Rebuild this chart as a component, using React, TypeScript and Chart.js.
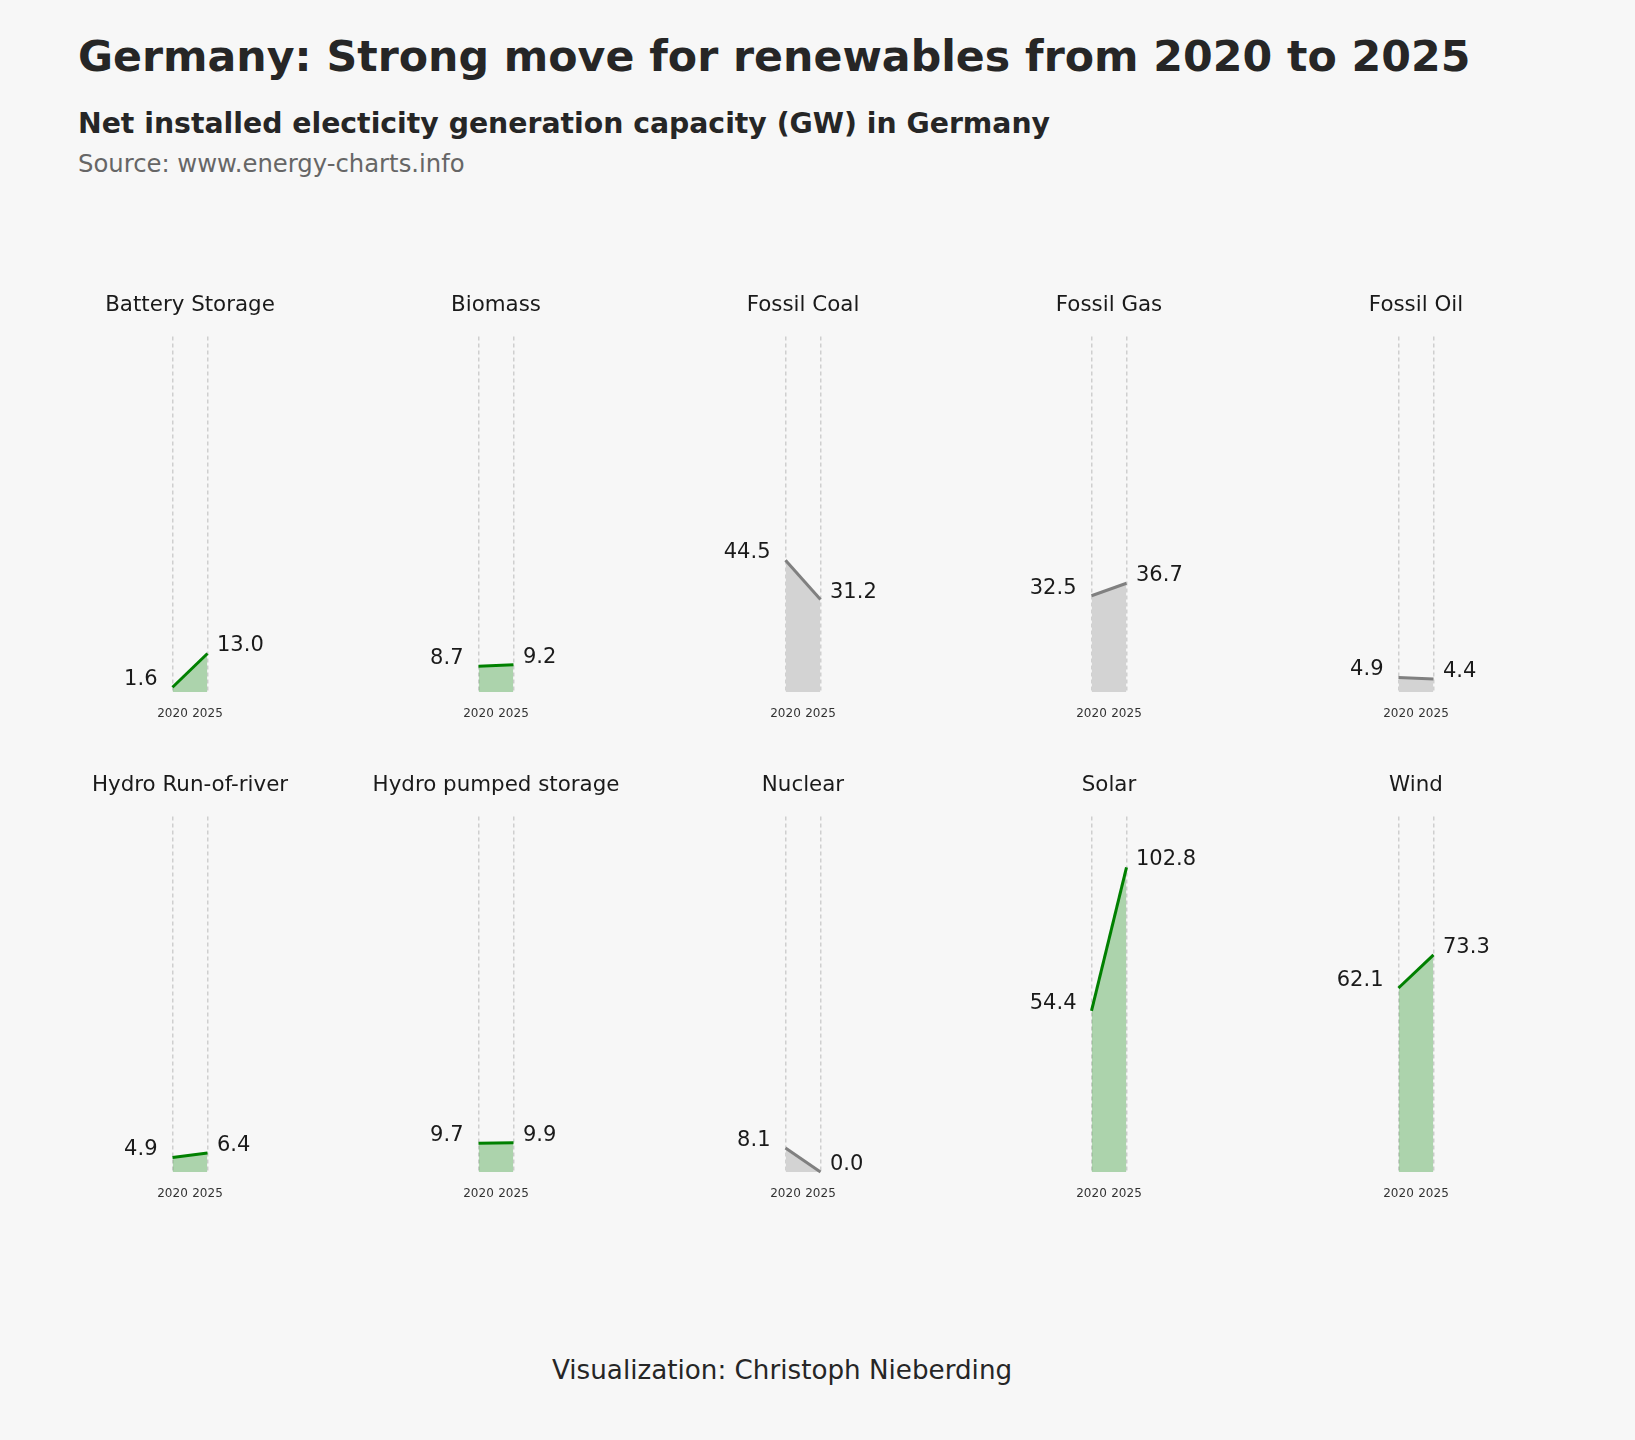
import React, { useEffect, useRef } from "react";
import { Chart, registerables } from "chart.js";

Chart.register(...registerables);

const years: string[] = ["2020", "2025"];
const categories: string[] = [
  "Battery Storage",
  "Biomass",
  "Fossil Coal",
  "Fossil Gas",
  "Fossil Oil",
  "Hydro Run-of-river",
  "Hydro pumped storage",
  "Nuclear",
  "Solar",
  "Wind",
];
const values2020: number[] = [1.6, 8.7, 44.5, 32.5, 4.9, 4.9, 9.7, 8.1, 54.4, 62.1];
const values2025: number[] = [13.0, 9.2, 31.2, 36.7, 4.4, 6.4, 9.9, 0.0, 102.8, 73.3];
const renewable: boolean[] = [true, true, false, false, false, true, true, false, true, true];

const BG = "#f7f7f7";
const FONT = "'DejaVu Sans', Verdana, sans-serif";

const panelText = {
  id: "panelText",
  afterDatasetsDraw(chart: any, _args: any, opts: any) {
    const ctx = chart.ctx;
    const meta = chart.getDatasetMeta(0);
    const data = chart.data.datasets[0].data as number[];
    ctx.save();
    ctx.font = `21px ${FONT}`;
    ctx.fillStyle = "#1a1a1a";
    ctx.textBaseline = "middle";
    meta.data.forEach((pt: any, i: number) => {
      const txt = data[i].toFixed(1);
      if (i === 0) {
        ctx.textAlign = "right";
        ctx.fillText(txt, pt.x - 15, pt.y - 7.5);
      } else {
        ctx.textAlign = "left";
        ctx.fillText(txt, pt.x + 9.5, pt.y - 7.5);
      }
    });
    // panel title
    ctx.font = `21.4px ${FONT}`;
    ctx.textAlign = "center";
    ctx.fillText(opts.title, (chart.chartArea.left + chart.chartArea.right) / 2, chart.chartArea.top - 31);
    ctx.restore();
  },
};

function Panel({ idx, left, top }: { idx: number; left: number; top: number }) {
  const ref = useRef<HTMLCanvasElement | null>(null);
  useEffect(() => {
    if (!ref.current) return;
    const green = renewable[idx];
    const chart = new Chart(ref.current, {
      type: "line",
      data: {
        labels: years,
        datasets: [
          {
            data: [values2020[idx], values2025[idx]],
            borderColor: green ? "#008000" : "#808080",
            backgroundColor: green ? "rgba(0,128,0,0.3)" : "#d3d3d3",
            borderWidth: 3,
            fill: "origin",
            pointRadius: 0,
            tension: 0,
            clip: false as any,
          },
        ],
      },
      options: {
        animation: false,
        responsive: false,
        maintainAspectRatio: false,
        devicePixelRatio: 1,
        layout: { padding: { left: 135.5, right: 135.5, top: 64.5, bottom: 3.6 } },
        plugins: {
          legend: { display: false },
          tooltip: { enabled: false },
          title: { display: false },
          panelText: { title: categories[idx] },
        } as any,
        scales: {
          x: {
            offset: false,
            border: { display: false, dash: [4, 3] },
            grid: {
              display: true,
              color: "#cfcfcf",
              lineWidth: 1.5,
              drawTicks: false,
            },
            ticks: {
              color: "#333",
              font: { family: FONT, size: 12 },
              padding: 15,
              autoSkip: false,
              maxRotation: 0,
              minRotation: 0,
            },
          },
          y: {
            display: false,
            min: 0,
            max: 120,
            grid: { display: false },
          },
        },
      } as any,
      plugins: [panelText],
    });
    return () => chart.destroy();
  }, [idx]);
  return (
    <canvas
      ref={ref}
      width={306}
      height={468}
      style={{ position: "absolute", left, top, width: 306, height: 468 }}
    />
  );
}

export default function App() {
  useEffect(() => {
    document.body.style.margin = "0";
    document.body.style.background = BG;
  }, []);
  const colCenters = [0, 1, 2, 3, 4].map((i) => 189.5 + i * 306.5);
  const rowTops = [271.5, 752];
  return (
    <div
      style={{
        position: "relative",
        width: 1635,
        height: 1440,
        background: BG,
        fontFamily: FONT,
        overflow: "hidden",
      }}
    >
      <div style={{ position: "absolute", left: 78, top: 31, fontSize: 42.7, fontWeight: "bold", color: "#262626", whiteSpace: "nowrap", lineHeight: "normal" }}>
        Germany: Strong move for renewables from 2020 to 2025
      </div>
      <div style={{ position: "absolute", left: 78, top: 107, fontSize: 28.3, fontWeight: "bold", color: "#262626", whiteSpace: "nowrap", lineHeight: "normal" }}>
        Net installed electicity generation capacity (GW) in Germany
      </div>
      <div style={{ position: "absolute", left: 78, top: 149, fontSize: 24.3, color: "#666666", whiteSpace: "nowrap", lineHeight: "normal" }}>
        Source: www.energy-charts.info
      </div>
      {categories.map((_, i) => (
        <Panel
          key={i}
          idx={i}
          left={colCenters[i % 5] - 153}
          top={rowTops[Math.floor(i / 5)]}
        />
      ))}
      <div style={{ position: "absolute", left: 552, top: 1355, fontSize: 26.2, color: "#262626", whiteSpace: "nowrap", lineHeight: "normal" }}>
        Visualization: Christoph Nieberding
      </div>
    </div>
  );
}
